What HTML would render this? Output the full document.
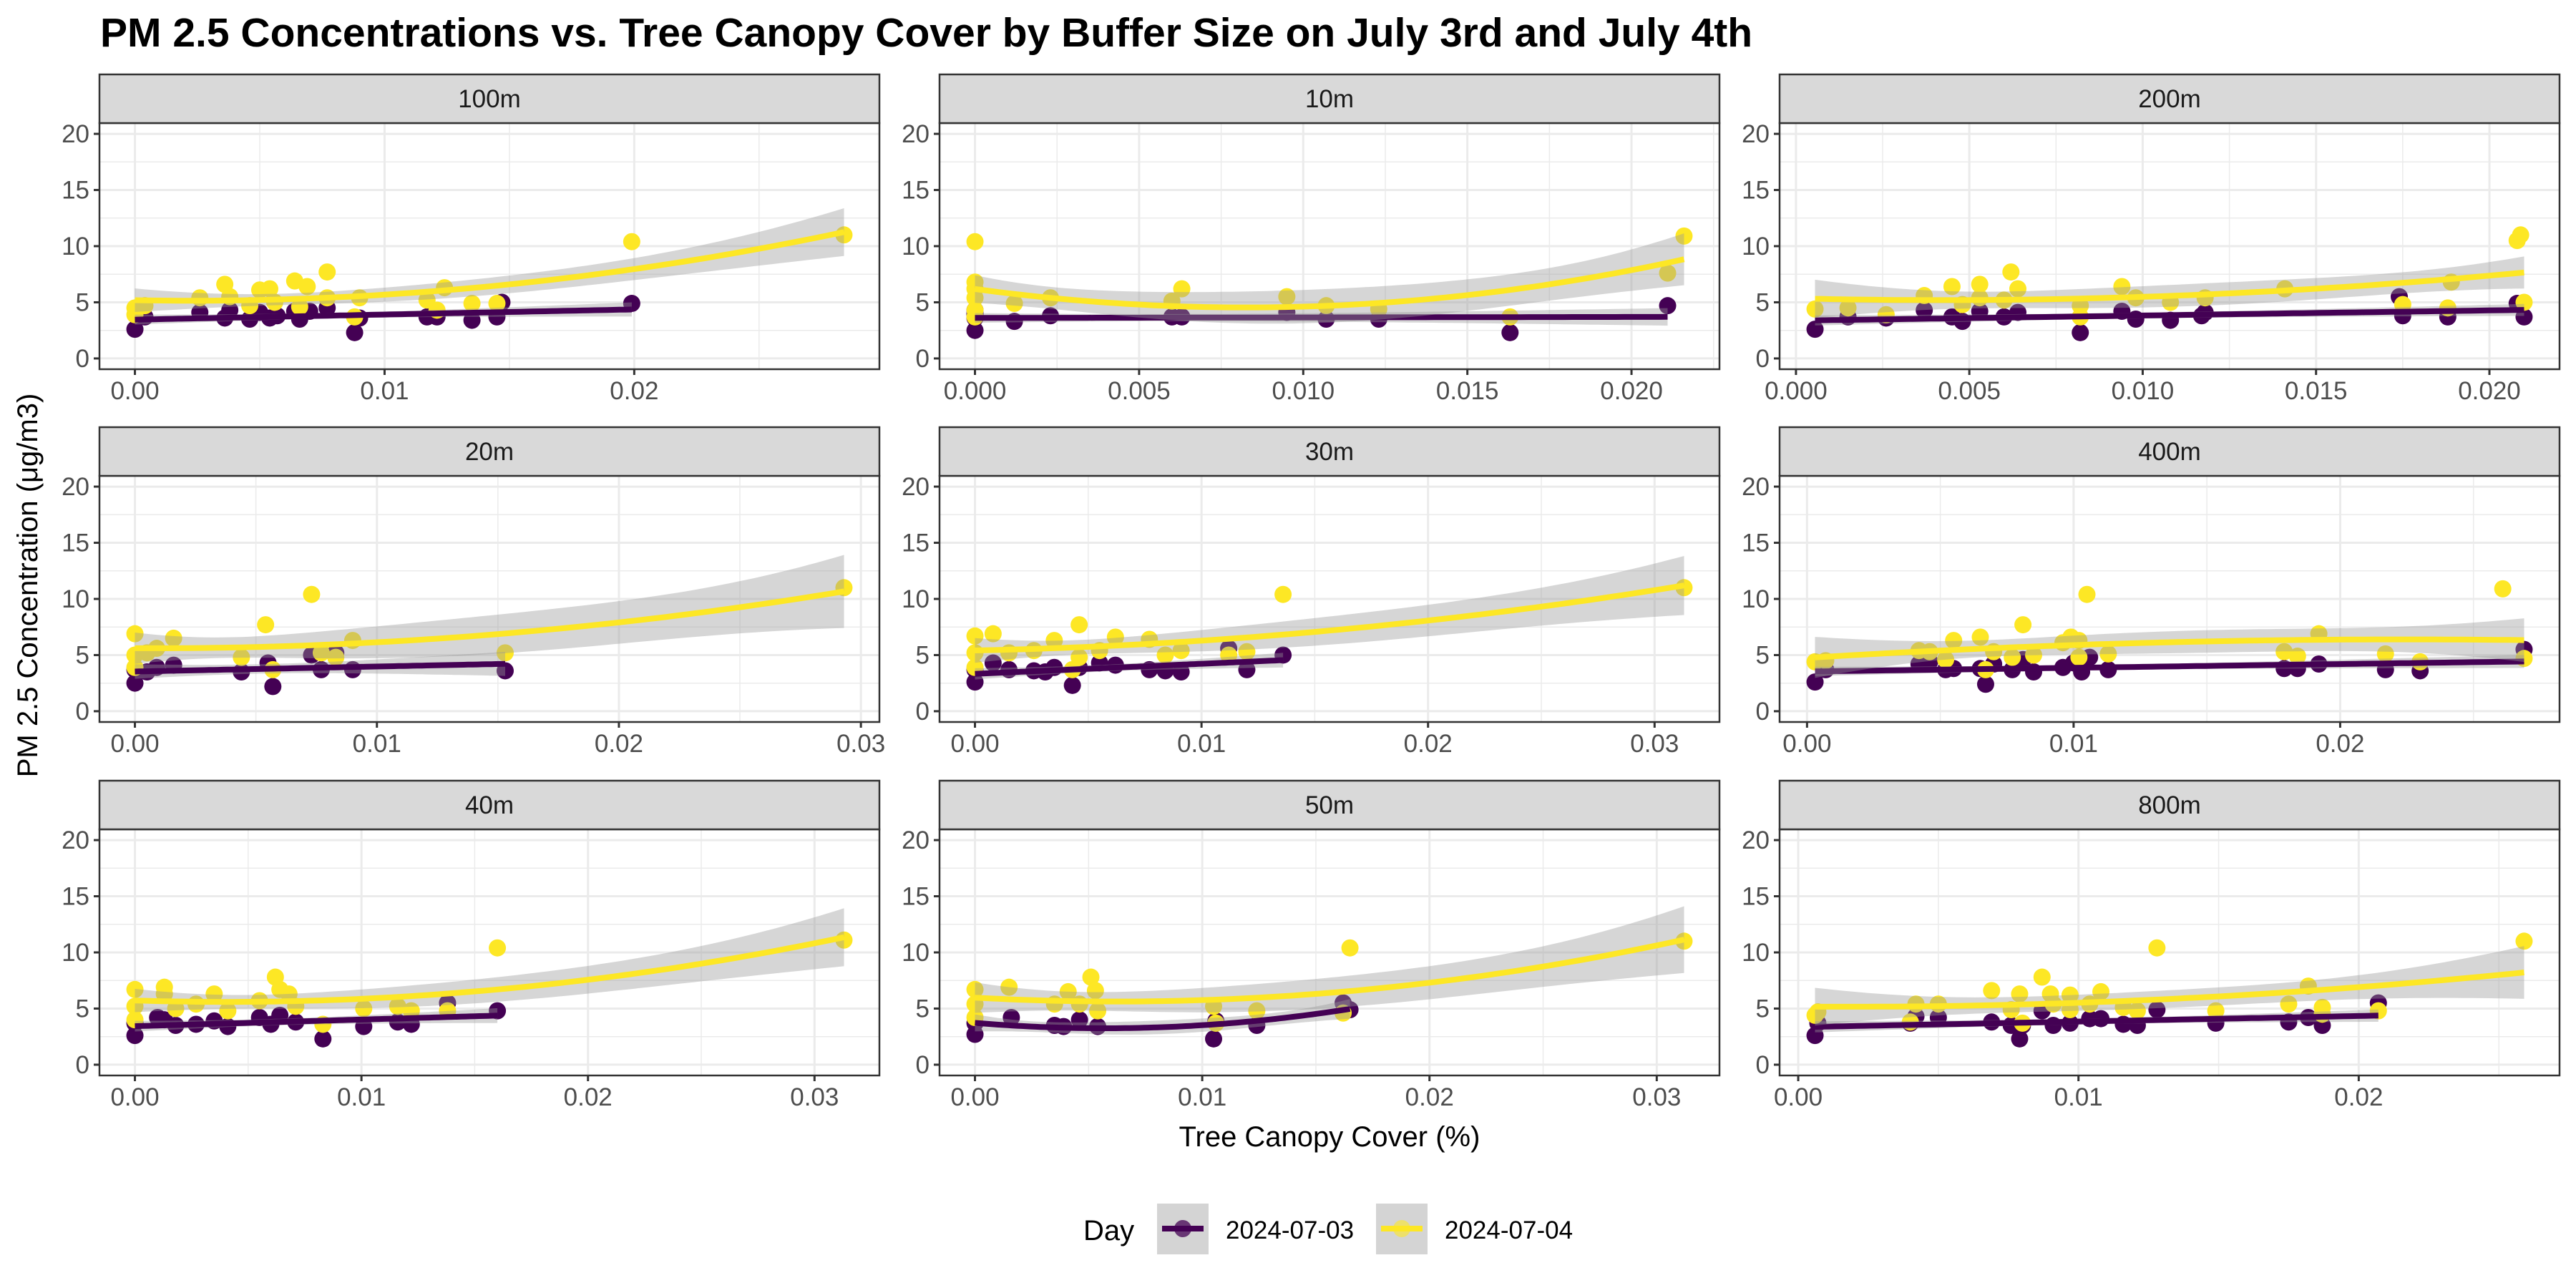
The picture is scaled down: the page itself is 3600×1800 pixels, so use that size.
<!DOCTYPE html>
<html><head><meta charset="utf-8"><style>
html,body{margin:0;padding:0;background:#fff}
svg{display:block}
text{font-family:"Liberation Sans",sans-serif}
</style></head><body>
<svg id="chart" xmlns="http://www.w3.org/2000/svg" width="3600" height="1800" viewBox="0 0 3600 1800">
<rect x="0" y="0" width="3600" height="1800" fill="#fff"/>
<text x="140" y="65" font-size="57" font-weight="bold" fill="#000">PM 2.5 Concentrations vs. Tree Canopy Cover by Buffer Size on July 3rd and July 4th</text>
<text transform="translate(52,818) rotate(-90)" text-anchor="middle" font-size="40" fill="#000">PM 2.5 Concentration (μg/m3)</text>
<text x="1858" y="1602" text-anchor="middle" font-size="40" fill="#000">Tree Canopy Cover (%)</text>
<g>
<text x="1514" y="1733" font-size="40" fill="#000">Day</text>
<g>
<rect x="1617" y="1682" width="72" height="71" fill="#d4d4d4"/>
<circle cx="1653" cy="1717" r="12" fill="#440154" opacity="0.75"/>
<line x1="1624" y1="1717" x2="1682" y2="1717" stroke="#440154" stroke-width="8"/>
<text x="1713" y="1731" font-size="35" fill="#000">2024-07-03</text>
</g>
<g>
<rect x="1923" y="1682" width="72" height="71" fill="#d4d4d4"/>
<circle cx="1959" cy="1717" r="12" fill="#FDE725" opacity="0.6"/>
<line x1="1930" y1="1717" x2="1988" y2="1717" stroke="#FDE725" stroke-width="8"/>
<text x="2019" y="1731" font-size="35" fill="#000">2024-07-04</text>
</g>
</g>
<g id="panels"></g>
</svg>
<script>
// ---- data ----
const panelNames = ["100m","10m","200m","20m","30m","400m","40m","50m","800m"];
const yTicks = [0,5,10,15,20];
const yTickLabels = ["0","5","10","15","20"];
const xTicks_100m = [0,0.01,0.02], xLabels_100m = ["0.00","0.01","0.02"];
const xTicks_10m = [0,0.005,0.01,0.015,0.02], xLabels_10m = ["0.000","0.005","0.010","0.015","0.020"];
const xTicks_200m = [0,0.005,0.01,0.015,0.02], xLabels_200m = ["0.000","0.005","0.010","0.015","0.020"];
const xTicks_20m = [0,0.01,0.02,0.03], xLabels_20m = ["0.00","0.01","0.02","0.03"];
const xTicks_30m = [0,0.01,0.02,0.03], xLabels_30m = ["0.00","0.01","0.02","0.03"];
const xTicks_400m = [0,0.01,0.02], xLabels_400m = ["0.00","0.01","0.02"];
const xTicks_40m = [0,0.01,0.02,0.03], xLabels_40m = ["0.00","0.01","0.02","0.03"];
const xTicks_50m = [0,0.01,0.02,0.03], xLabels_50m = ["0.00","0.01","0.02","0.03"];
const xTicks_800m = [0,0.01,0.02], xLabels_800m = ["0.00","0.01","0.02"];

const x100_d3 = [0,0.0004,0.0026,0.0036,0.0038,0.0046,0.005,0.0054,0.0057,0.0064,0.0066,0.007,0.0077,0.0088,0.009,0.0117,0.0121,0.0135,0.0145,0.0147,0.0199];
const y100_d3 = [2.6,3.7,4.1,3.6,4.3,3.5,4.1,3.6,3.8,4.2,3.5,4.2,4.5,2.3,3.6,3.7,3.7,3.4,3.7,5.0,4.9];
const x100_d4 = [0,0,0.0004,0.0026,0.0036,0.0038,0.0046,0.005,0.0054,0.0056,0.0064,0.0066,0.0069,0.0077,0.0077,0.0088,0.009,0.0117,0.0121,0.0124,0.0135,0.0145,0.0199,0.0284];
const y100_d4 = [3.9,4.5,4.7,5.4,6.6,5.5,4.7,6.1,6.2,5.0,6.9,4.6,6.4,7.7,5.4,3.7,5.4,5.2,4.3,6.3,4.9,4.9,10.4,11.0];

const x10_d3 = [0,0,0,0,0,0.0012,0.0023,0.006,0.0063,0.0095,0.0107,0.0123,0.0163,0.0211];
const y10_d3 = [2.5,3.9,4.3,3.6,4.0,3.3,3.8,3.7,3.7,4.1,3.5,3.5,2.3,4.7];
const x10_d4 = [0,0,0,0,0,0,0.0012,0.0023,0.006,0.0063,0.0095,0.0107,0.0123,0.0163,0.0211,0.0216];
const y10_d4 = [10.4,6.8,6.2,5.4,4.3,3.7,4.9,5.4,5.1,6.2,5.5,4.7,4.4,3.7,7.6,10.9];

const x200_d3 = [0.00055,0.0015,0.0026,0.0037,0.0045,0.0048,0.0053,0.006,0.0064,0.0082,0.0094,0.0098,0.0108,0.0117,0.0118,0.0174,0.0175,0.0188,0.0208,0.021];
const y200_d3 = [2.6,3.7,3.6,4.3,3.7,3.3,4.2,3.7,4.1,2.3,4.2,3.5,3.4,3.8,4.1,5.5,3.8,3.7,4.9,3.7];
const x200_d4 = [0.00055,0.0015,0.0026,0.0037,0.0045,0.0048,0.0053,0.0053,0.006,0.0062,0.0064,0.0082,0.0082,0.0094,0.0098,0.0108,0.0118,0.0141,0.0175,0.0188,0.0189,0.0208,0.0209,0.021];
const y200_d4 = [4.4,4.5,3.9,5.6,6.4,4.8,6.6,5.4,5.2,7.7,6.2,4.7,3.7,6.4,5.4,5.0,5.4,6.2,4.8,4.5,6.8,10.5,11.0,5.0];

const x20_d3 = [0,0,0.0005,0.0009,0.0016,0.0044,0.0055,0.0057,0.0073,0.0077,0.0083,0.009,0.0153];
const y20_d3 = [2.5,3.7,3.5,3.9,4.1,3.5,4.3,2.2,5.0,3.7,5.2,3.7,3.6];
const x20_d4 = [0,0,0,0.0005,0.0009,0.0016,0.0044,0.0054,0.0057,0.0073,0.0077,0.0083,0.009,0.0153,0.0293];
const y20_d4 = [6.9,5.0,3.9,5.2,5.6,6.5,4.8,7.7,3.7,10.4,5.2,4.8,6.3,5.2,11.0];

const x30_d3 = [0,0,0.0008,0.0015,0.0026,0.0031,0.0035,0.0043,0.0046,0.0055,0.0062,0.0077,0.0084,0.0091,0.0112,0.012,0.0136];
const y30_d3 = [2.6,3.7,4.3,3.7,3.6,3.5,3.9,2.3,3.9,4.3,4.1,3.7,3.6,3.5,5.6,3.7,5.0];
const x30_d4 = [0,0,0,0.0008,0.0015,0.0026,0.0035,0.0043,0.0046,0.0046,0.0055,0.0062,0.0077,0.0084,0.0091,0.0112,0.012,0.0136,0.0313];
const y30_d4 = [6.7,5.2,3.9,6.9,5.2,5.4,6.3,3.7,7.7,4.8,5.4,6.6,6.4,5.0,5.4,5.0,5.3,10.4,11.0];

const x400_d3 = [0.0003,0.0007,0.0042,0.0046,0.0052,0.0055,0.0065,0.0067,0.007,0.0077,0.0081,0.0085,0.0096,0.01,0.0103,0.0106,0.0113,0.0179,0.0184,0.0192,0.0217,0.023,0.0269];
const y400_d3 = [2.6,3.7,4.2,4.4,3.7,3.8,3.8,2.4,4.2,3.7,4.6,3.5,3.9,4.3,3.5,4.8,3.7,3.8,3.8,4.2,3.7,3.6,5.5];
const x400_d4 = [0.0003,0.0007,0.0042,0.0046,0.0052,0.0055,0.0065,0.0067,0.007,0.0077,0.0081,0.0085,0.0096,0.0099,0.0102,0.0102,0.0105,0.0113,0.0179,0.0184,0.0192,0.0217,0.023,0.0261,0.0269];
const y400_d4 = [4.4,4.5,5.4,5.3,4.6,6.3,6.6,3.7,5.3,4.8,7.7,5.0,6.1,6.6,6.3,4.8,10.4,5.1,5.3,4.9,6.9,5.1,4.4,10.9,4.7];

const x40_d3 = [0,0,0.001,0.0013,0.0018,0.0027,0.0035,0.0041,0.0055,0.006,0.0064,0.0071,0.0083,0.0101,0.0116,0.0122,0.0138,0.016];
const y40_d3 = [2.6,3.7,4.2,4.0,3.5,3.6,3.9,3.4,4.2,3.6,4.4,3.8,2.3,3.4,3.8,3.6,5.5,4.8];
const x40_d4 = [0,0,0,0.0013,0.0013,0.0018,0.0027,0.0035,0.0041,0.0055,0.0062,0.0064,0.0068,0.0071,0.0083,0.0101,0.0116,0.0122,0.0138,0.016,0.0313];
const y40_d4 = [6.7,5.2,4.0,6.9,6.3,5.0,5.4,6.3,4.8,5.7,7.8,6.7,6.3,5.2,3.6,5.0,5.2,4.8,4.8,10.4,11.1];

const x50_d3 = [0,0,0.0016,0.0035,0.0039,0.0046,0.0054,0.0105,0.0106,0.0124,0.0162,0.0165];
const y50_d3 = [2.7,3.7,4.2,3.5,3.4,4.0,3.4,2.3,3.9,3.5,5.5,4.9];
const x50_d4 = [0,0,0,0.0015,0.0035,0.0041,0.0046,0.0051,0.0053,0.0054,0.0105,0.0106,0.0124,0.0162,0.0165,0.0312];
const y50_d4 = [6.7,5.4,4.2,6.9,5.4,6.5,5.4,7.8,6.6,4.8,5.2,3.7,4.8,4.6,10.4,11.0];

const x800_d3 = [0.0006,0.0007,0.004,0.0042,0.005,0.0069,0.0076,0.0079,0.008,0.0087,0.0091,0.0097,0.0104,0.0108,0.0116,0.0121,0.0128,0.0149,0.0175,0.0182,0.0187,0.0207];
const y800_d3 = [2.6,3.7,3.7,4.3,4.2,3.8,3.5,2.3,3.5,4.8,3.5,3.7,4.1,4.1,3.6,3.5,4.9,3.7,3.8,4.2,3.5,5.5];
const x800_d4 = [0.0006,0.0007,0.004,0.0042,0.005,0.0069,0.0076,0.0079,0.008,0.0087,0.009,0.0091,0.0097,0.0097,0.0104,0.0108,0.0116,0.0121,0.0128,0.0149,0.0175,0.0182,0.0187,0.0187,0.0207,0.0259];
const y800_d4 = [4.4,4.7,3.8,5.4,5.4,6.6,4.9,6.3,3.7,7.8,6.3,5.4,6.2,4.9,5.4,6.5,5.1,4.8,10.4,4.8,5.4,7.0,5.1,4.5,4.8,11.0];

const fitDegree_d3 = [1,1,1,1,1,1,1,2,1];
const fitDegree_d4 = [2,2,2,2,2,2,2,2,2];

// ---- layout ----
const NS = "http://www.w3.org/2000/svg";
const colLeft = [139,1313,2487], panelW = 1090;
const rowTop = [172,665,1159], panelH = 344, stripH = 68;
const yMin = -0.96, yMax = 20.96;
const PURPLE = "#440154", YELLOW = "#FDE725";

const dataX_d3 = [x100_d3,x10_d3,x200_d3,x20_d3,x30_d3,x400_d3,x40_d3,x50_d3,x800_d3];
const dataY_d3 = [y100_d3,y10_d3,y200_d3,y20_d3,y30_d3,y400_d3,y40_d3,y50_d3,y800_d3];
const dataX_d4 = [x100_d4,x10_d4,x200_d4,x20_d4,x30_d4,x400_d4,x40_d4,x50_d4,x800_d4];
const dataY_d4 = [y100_d4,y10_d4,y200_d4,y20_d4,y30_d4,y400_d4,y40_d4,y50_d4,y800_d4];
const ticksX = [xTicks_100m,xTicks_10m,xTicks_200m,xTicks_20m,xTicks_30m,xTicks_400m,xTicks_40m,xTicks_50m,xTicks_800m];
const labelsX = [xLabels_100m,xLabels_10m,xLabels_200m,xLabels_20m,xLabels_30m,xLabels_400m,xLabels_40m,xLabels_50m,xLabels_800m];

function mk(tag, attrs, parent){
  const e = document.createElementNS(NS, tag);
  for (const k in attrs) e.setAttribute(k, attrs[k]);
  parent.appendChild(e);
  return e;
}
function invert(M){
  const n = M.length, A = M.map((r,i)=>r.concat(Array.from({length:n},(_,j)=>i===j?1:0)));
  for (let i=0;i<n;i++){
    let p=i; for(let r=i+1;r<n;r++) if(Math.abs(A[r][i])>Math.abs(A[p][i])) p=r;
    [A[i],A[p]]=[A[p],A[i]];
    const d=A[i][i]||1e-12;
    for(let j=0;j<2*n;j++) A[i][j]/=d;
    for(let r=0;r<n;r++) if(r!==i){const f=A[r][i]; for(let j=0;j<2*n;j++) A[r][j]-=f*A[i][j];}
  }
  return A.map(r=>r.slice(n));
}
function polyFit(xs, ys, deg){
  const sc = 100, n = xs.length, k = deg+1;
  const row = x => Array.from({length:k},(_,j)=>Math.pow(x*sc,j));
  const XtX = Array.from({length:k},()=>Array(k).fill(0)), Xty = Array(k).fill(0);
  xs.forEach((x,i)=>{const r=row(x); for(let a=0;a<k;a++){Xty[a]+=r[a]*ys[i]; for(let b=0;b<k;b++) XtX[a][b]+=r[a]*r[b];}});
  const inv = invert(XtX);
  const beta = inv.map(r=>r.reduce((s,v,j)=>s+v*Xty[j],0));
  let rss=0; xs.forEach((x,i)=>{const r=row(x); const f=r.reduce((s,v,j)=>s+v*beta[j],0); rss+=(ys[i]-f)**2;});
  const s2 = rss/Math.max(1,n-k);
  return x => {
    const r=row(x); const f=r.reduce((s,v,j)=>s+v*beta[j],0);
    let v=0; for(let a=0;a<k;a++) for(let b=0;b<k;b++) v+=r[a]*inv[a][b]*r[b];
    return [f, 1.8*Math.sqrt(Math.max(0,s2*v))];
  };
}

const root = document.getElementById('panels');
panelNames.forEach((name, pi) => {
  const col = pi % 3, rowI = Math.floor(pi/3);
  const L = colLeft[col], T = rowTop[rowI];
  const allX = dataX_d3[pi].concat(dataX_d4[pi]);
  const dMin = Math.min(...allX), dMax = Math.max(...allX), pad = (dMax-dMin)*0.05;
  const xLo = dMin-pad, xHi = dMax+pad;
  const X = v => L + (v-xLo)/(xHi-xLo)*panelW;
  const Y = v => T + (yMax-v)/(yMax-yMin)*panelH;

  const g = mk('g', {}, root);
  
  

  const bg = mk('rect', {x:L, y:T, width:panelW, height:panelH, fill:'#fff'}, g);
  
  

  const ticks = ticksX[pi];
  const step = ticks[1]-ticks[0];
  for (let t = ticks[0]-step/2; t <= xHi; t += step) {
    if (t < xLo) continue;
    const l = mk('line', {x1:X(t), x2:X(t), y1:T, y2:T+panelH, stroke:'#ebebeb', 'stroke-width':1.5}, g);
    
    
  }
  [2.5,7.5,12.5,17.5].forEach(v => {
    const l = mk('line', {x1:L, x2:L+panelW, y1:Y(v), y2:Y(v), stroke:'#ebebeb', 'stroke-width':1.5}, g);
    
    
  });
  ticks.forEach((t, ti) => {
    const l = mk('line', {x1:X(t), x2:X(t), y1:T, y2:T+panelH, stroke:'#ebebeb', 'stroke-width':3}, g);
    
    
    const tk = mk('line', {x1:X(t), x2:X(t), y1:T+panelH, y2:T+panelH+8, stroke:'#333', 'stroke-width':3}, g);
    
    
    const tx = mk('text', {x:X(t), y:T+panelH+42, 'text-anchor':'middle', 'font-size':35, fill:'#4d4d4d'}, g);
    tx.textContent = labelsX[pi][ti];
    
    
  });
  yTicks.forEach((v, ti) => {
    const l = mk('line', {x1:L, x2:L+panelW, y1:Y(v), y2:Y(v), stroke:'#ebebeb', 'stroke-width':3}, g);
    
    
    const tk = mk('line', {x1:L-8, x2:L, y1:Y(v), y2:Y(v), stroke:'#333', 'stroke-width':3}, g);
    
    
    const tx = mk('text', {x:L-14, y:Y(v)+12, 'text-anchor':'end', 'font-size':35, fill:'#4d4d4d'}, g);
    tx.textContent = yTickLabels[ti];
    
    
  });

  [[dataX_d3[pi], dataY_d3[pi], PURPLE, 'point-2024-07-03'], [dataX_d4[pi], dataY_d4[pi], YELLOW, 'point-2024-07-04']].forEach(s => {
    s[0].forEach((x, i) => {
      const c = mk('circle', {cx:X(x), cy:Y(s[1][i]), r:12, fill:s[2]}, g);
      
      
    });
  });

  [[dataX_d3[pi], dataY_d3[pi], PURPLE, fitDegree_d3[pi], '2024-07-03'], [dataX_d4[pi], dataY_d4[pi], YELLOW, fitDegree_d4[pi], '2024-07-04']].forEach(s => {
    const f = polyFit(s[0], s[1], s[3]);
    const lo = Math.min(...s[0]), hi = Math.max(...s[0]);
    const N = 80, up = [], dn = [], mid = [];
    for (let i=0;i<=N;i++){
      const x = lo + (hi-lo)*i/N, r = f(x);
      mid.push(X(x).toFixed(1)+','+Y(r[0]).toFixed(1));
      up.push(X(x).toFixed(1)+','+Y(r[0]+r[1]).toFixed(1));
      dn.unshift(X(x).toFixed(1)+','+Y(r[0]-r[1]).toFixed(1));
    }
    const rb = mk('polygon', {points:up.concat(dn).join(' '), fill:'#999999', 'fill-opacity':0.4}, g);
    
    
    const ln = mk('polyline', {points:mid.join(' '), fill:'none', stroke:s[2], 'stroke-width':8}, g);
    
    
  });

  const br = mk('rect', {x:L, y:T, width:panelW, height:panelH, fill:'none', stroke:'#333', 'stroke-width':2.5}, g);
  
  
  const st = mk('rect', {x:L, y:T-stripH, width:panelW, height:stripH, fill:'#d9d9d9', stroke:'#333', 'stroke-width':2.5}, g);
  
  
  const stt = mk('text', {x:L+panelW/2, y:T-stripH/2+12, 'text-anchor':'middle', 'font-size':35, fill:'#1a1a1a'}, g);
  stt.textContent = name;
  
  
});
</script>
</body></html>
